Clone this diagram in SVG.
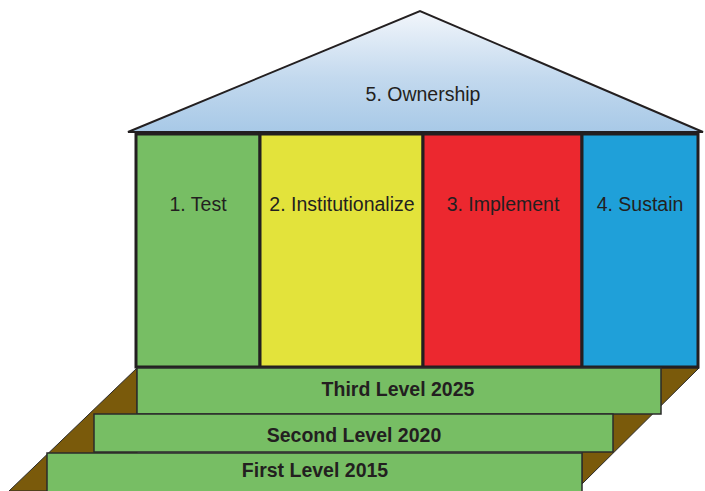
<svg xmlns="http://www.w3.org/2000/svg" width="705" height="491" viewBox="0 0 705 491">
<defs>
<linearGradient id="roofGrad" x1="0" y1="0" x2="0" y2="1">
<stop offset="0" stop-color="#F2F6FB"/>
<stop offset="0.55" stop-color="#C3D9EE"/>
<stop offset="1" stop-color="#A8C9E7"/>
</linearGradient>
<style>
.lbl{font-family:"Liberation Sans",Arial,sans-serif;font-size:19.5px;fill:#231F20;text-anchor:middle}
.step-lbl{font-family:"Liberation Sans",Arial,sans-serif;font-size:19.5px;font-weight:bold;fill:#231F20;text-anchor:middle}
.col{stroke:#231F20;stroke-width:3}
.step{fill:#77BE64;stroke:#2B2B2B;stroke-width:1.5}
.wedge{fill:#7A5A0B;stroke:#2B2B2B;stroke-width:1}
</style>
</defs>
<rect width="705" height="491" fill="#FFFFFF"/>
<g id="base-wedges">
<polygon class="wedge" points="137,368 9,491 137,491"/>
<polygon class="wedge" points="699,368 582,484 582,368"/>
</g>
<g id="roof">
<polygon points="128,132 420,11 703,132" fill="url(#roofGrad)" stroke="#231F20" stroke-width="2" stroke-linejoin="miter"/>
<text class="lbl" x="423" y="101">5. Ownership</text>
</g>
<g id="col-test">
<rect class="col" x="136" y="134" width="124" height="233" fill="#77BE64"/>
<text class="lbl" x="198" y="211">1. Test</text>
</g>
<g id="col-institutionalize">
<rect class="col" x="260" y="134" width="163" height="233" fill="#E3E33B"/>
<text class="lbl" x="342" y="211">2. Institutionalize</text>
</g>
<g id="col-implement">
<rect class="col" x="423" y="134" width="159" height="233" fill="#EC282F"/>
<text class="lbl" x="503" y="211">3. Implement</text>
</g>
<g id="col-sustain">
<rect class="col" x="582" y="134" width="116" height="233" fill="#1FA0D9"/>
<text class="lbl" x="640" y="211">4. Sustain</text>
</g>
<g id="step-third">
<rect class="step" x="137" y="368" width="524" height="46"/>
<text class="step-lbl" x="398" y="396">Third Level 2025</text>
</g>
<g id="step-second">
<rect class="step" x="94" y="414" width="519" height="38"/>
<text class="step-lbl" x="354" y="442">Second Level 2020</text>
</g>
<g id="step-first">
<rect class="step" x="47" y="453" width="535" height="40"/>
<text class="step-lbl" x="315" y="477">First Level 2015</text>
</g>
<g id="connectors"/>
</svg>
